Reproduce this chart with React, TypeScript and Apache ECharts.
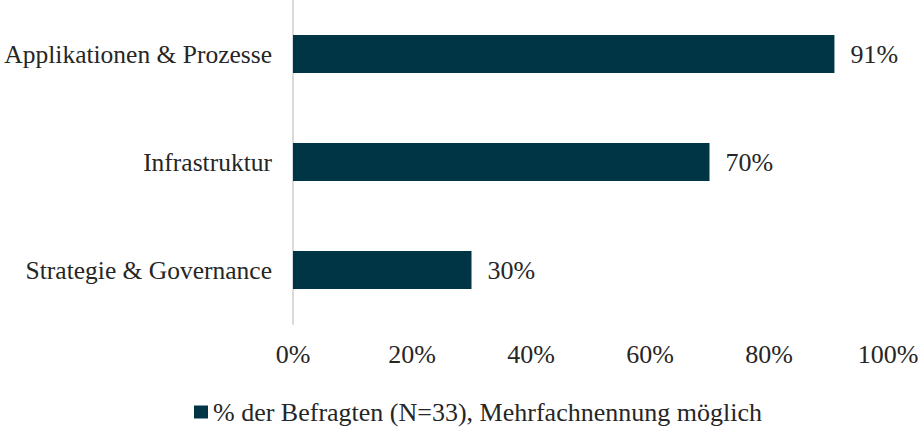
import React, { useEffect, useRef } from "react";
import * as echarts from "echarts";

const categories = ["Strategie & Governance", "Infrastruktur", "Applikationen & Prozesse"];
const values = [30, 70, 91];
const seriesName = "% der Befragten (N=33), Mehrfachnennung möglich";
const xTicks = [0, 20, 40, 60, 80, 100];

export default function App() {
  const ref = useRef<HTMLDivElement>(null);
  useEffect(() => {
    if (!ref.current) return;
    const chart = echarts.init(ref.current, null, { renderer: "svg" });
    const font = "Liberation Serif";
    chart.setOption({
      animation: false,
      textStyle: { fontFamily: font },
      grid: {
        left: 293,
        right: 33,
        top: 0,
        height: 324,
        containLabel: false,
        outerBoundsMode: "none",
      },
      legend: {
        bottom: 3,
        left: 189,
        icon: "rect",
        itemWidth: 14,
        itemHeight: 13,
        itemGap: 6,
        textStyle: { fontFamily: font, fontSize: 26, color: "#262626" },
        data: [seriesName],
      },
      xAxis: {
        type: "value",
        min: xTicks[0],
        max: xTicks[xTicks.length - 1],
        interval: 20,
        splitLine: { show: false },
        axisLine: { show: false },
        axisTick: { show: false },
        axisLabel: {
          formatter: (v: number) => v + "%",
          fontFamily: font,
          fontSize: 26,
          color: "#262626",
          margin: 17,
        },
      },
      yAxis: {
        type: "category",
        data: categories,
        axisLine: { show: true, lineStyle: { color: "#d9d9d9", width: 2 } },
        axisTick: { show: false },
        axisLabel: { fontFamily: font, fontSize: 25.5, color: "#262626", margin: 21 },
      },
      series: [
        {
          name: seriesName,
          type: "bar",
          data: values,
          barWidth: 38,
          itemStyle: { color: "#003545" },
          label: {
            show: true,
            position: "right",
            distance: 16,
            formatter: (p: any) => p.value + "%",
            fontFamily: font,
            fontSize: 26,
            color: "#262626",
          },
        },
      ],
    });
    return () => chart.dispose();
  }, []);
  return (
    <div
      ref={ref}
      style={{ position: "absolute", left: 0, top: 0, width: 921, height: 433 }}
    />
  );
}
